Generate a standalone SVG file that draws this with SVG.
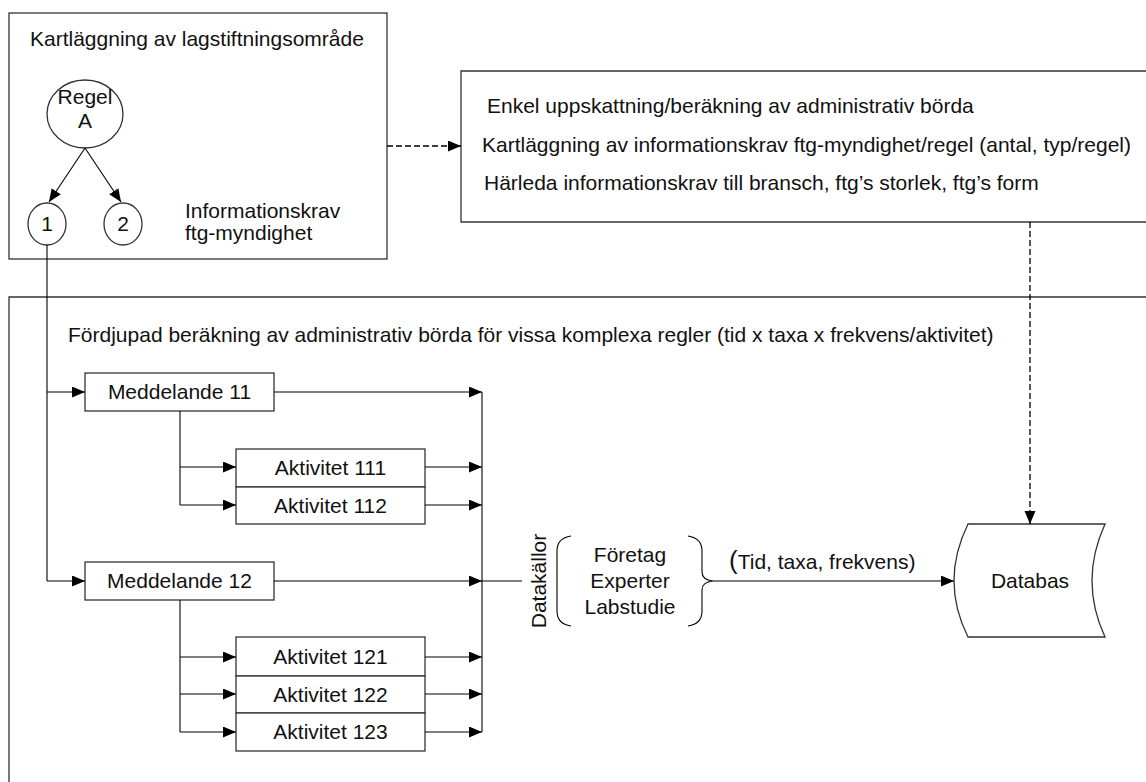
<svg xmlns="http://www.w3.org/2000/svg" width="1146" height="782" viewBox="0 0 1146 782">
<defs>
<marker id="ah" markerUnits="userSpaceOnUse" markerWidth="14" markerHeight="12" refX="13" refY="5.5" orient="auto">
<path d="M0,0 L13,5.5 L0,11 z" fill="#000"/>
</marker>
<style>
text{font-family:"Liberation Sans",Arial,sans-serif;font-size:21px;fill:#111}
.c{text-anchor:middle}
.box{fill:#fff;stroke:#333;stroke-width:1.3}
.frame{fill:none;stroke:#333;stroke-width:1.3}
.ln{fill:none;stroke:#000;stroke-width:1.1}
.arr{fill:none;stroke:#000;stroke-width:1.1;marker-end:url(#ah)}
.dash{fill:none;stroke:#000;stroke-width:1.3;stroke-dasharray:6,3;marker-end:url(#ah)}
</style>
</defs>
<rect width="1146" height="782" fill="#fff"/>

<g id="area-top-left">
<rect class="box" x="9" y="13" width="378" height="246"/>
<text x="30" y="46">Kartläggning av lagstiftningsområde</text>
<text x="185" y="218">Informationskrav</text>
<text x="185" y="240">ftg-myndighet</text>
</g>
<g id="regelA">
<ellipse class="box" cx="85" cy="114" rx="38" ry="34"/>
<text class="c" x="85" y="104">Regel</text>
<text class="c" x="85" y="128">A</text>
</g>
<g id="krav1">
<ellipse class="box" cx="47" cy="224" rx="19" ry="21"/>
<text class="c" x="47" y="231">1</text>
</g>
<g id="krav2">
<ellipse class="box" cx="123" cy="224" rx="19" ry="21"/>
<text class="c" x="123" y="231">2</text>
</g>

<g id="area-right">
<path class="frame" d="M1150 71 L461 71 L461 222 L1150 222"/>
<text x="487" y="113">Enkel uppskattning/beräkning av administrativ börda</text>
<text x="482" y="152">Kartläggning av informationskrav ftg-myndighet/regel (antal, typ/regel)</text>
<text x="484" y="190">Härleda informationskrav till bransch, ftg’s storlek, ftg’s form</text>
</g>

<g id="area-bottom">
<path class="frame" d="M1150 297 L9 297 L9 790"/>
<text x="68" y="342">Fördjupad beräkning av administrativ börda för vissa komplexa regler (tid x taxa x frekvens/aktivitet)</text>
</g>

<g id="m11"><rect class="box" x="85" y="373" width="189" height="38"/><text class="c" x="179.5" y="399">Meddelande 11</text></g>
<g id="a111"><rect class="box" x="236" y="449" width="189" height="38"/><text class="c" x="330.5" y="475">Aktivitet 111</text></g>
<g id="a112"><rect class="box" x="236" y="487" width="189" height="37"/><text class="c" x="330.5" y="513">Aktivitet 112</text></g>
<g id="m12"><rect class="box" x="85" y="562" width="189" height="38"/><text class="c" x="179.5" y="588">Meddelande 12</text></g>
<g id="a121"><rect class="box" x="236" y="637" width="189" height="39"/><text class="c" x="330.5" y="664">Aktivitet 121</text></g>
<g id="a122"><rect class="box" x="236" y="676" width="189" height="37"/><text class="c" x="330.5" y="702">Aktivitet 122</text></g>
<g id="a123"><rect class="box" x="236" y="713" width="189" height="38"/><text class="c" x="330.5" y="739">Aktivitet 123</text></g>

<g id="datakallor">
<text class="c" transform="translate(546,581) rotate(-90)">Datakällor</text>
<path class="ln" d="M571 536 Q557 538 557 551 L557 611 Q557 624 571 626"/>
<path class="ln" d="M688 536 Q702 538 702 551 L702 572 Q702 580 713 581 Q702 582 702 590 L702 611 Q702 624 688 626"/>
<text class="c" x="630" y="562">Företag</text>
<text class="c" x="630" y="588">Experter</text>
<text class="c" x="630" y="614">Labstudie</text>
</g>

<g id="databas">
<path class="box" d="M968 524 L1105 524 Q1079 581 1105 637 L968 637 Q940 581 968 524 Z"/>
<text class="c" x="1030" y="588">Databas</text>
</g>

<g id="connectors">
<path class="arr" d="M85 148 L49 202"/>
<path class="arr" d="M85 148 L121 202"/>
<path class="dash" d="M387 146 L461 146"/>
<path class="dash" d="M1030 222 L1030 524"/>
<path class="ln" d="M47 245 L47 581"/>
<path class="arr" d="M47 392 L85 392"/>
<path class="arr" d="M47 581 L85 581"/>
<path class="arr" d="M274 392 L482 392"/>
<path class="arr" d="M274 581 L482 581"/>
<path class="ln" d="M482 392 L482 732"/>
<path class="ln" d="M482 581 L522 581"/>
<path class="ln" d="M180 411 L180 505"/>
<path class="arr" d="M180 467 L236 467"/>
<path class="arr" d="M180 505 L236 505"/>
<path class="arr" d="M425 467 L482 467"/>
<path class="arr" d="M425 505 L482 505"/>
<path class="ln" d="M180 600 L180 732"/>
<path class="arr" d="M180 657 L236 657"/>
<path class="arr" d="M180 694 L236 694"/>
<path class="arr" d="M180 732 L236 732"/>
<path class="arr" d="M425 657 L482 657"/>
<path class="arr" d="M425 694 L482 694"/>
<path class="arr" d="M425 732 L482 732"/>
<path class="arr" d="M713 581 L954 581"/>
<text x="729" y="569"><tspan font-size="26">(</tspan>Tid, taxa, frekvens)</text>
</g>
</svg>
